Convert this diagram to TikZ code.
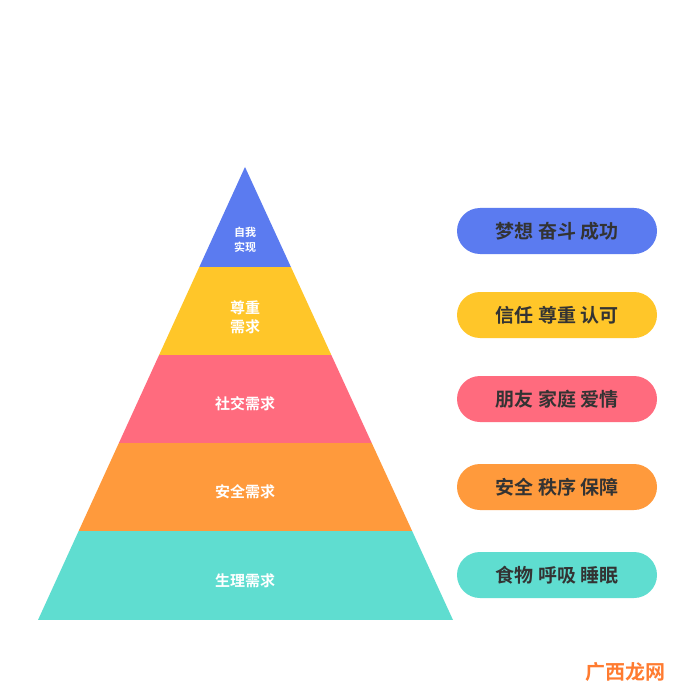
\documentclass[tikz,border=0pt]{standalone}
\usepackage{fontspec}
\newfontfamily\cjk{Noto Sans CJK SC Bold}
\definecolor{cb}{HTML}{5B7BF0}
\definecolor{cy}{HTML}{FFC629}
\definecolor{cp}{HTML}{FF6B7E}
\definecolor{co}{HTML}{FF9A3C}
\definecolor{ct}{HTML}{5FDDD0}
\definecolor{txt}{HTML}{333333}
\tikzset{pill/.style={rounded corners=23pt,minimum width=200pt,minimum height=46pt,inner sep=0pt,font=\cjk\fontsize{19}{22}\selectfont,text=txt},
lab/.style={text=white,font=\cjk\fontsize{15}{19}\selectfont,align=center}}
\begin{document}
\begin{tikzpicture}[x=1pt,y=-1pt]
\useasboundingbox (0,0) rectangle (700,700);
\fill[white] (0,0) rectangle (700,700);
\begin{scope}
\clip (245,167) -- (453,620) -- (38,620) -- cycle;
\fill[cb] (0,160) rectangle (700,267);
\fill[cy] (0,267) rectangle (700,355);
\fill[cp] (0,355) rectangle (700,443);
\fill[co] (0,443) rectangle (700,531);
\fill[ct] (0,531) rectangle (700,620);
\end{scope}
\node[lab,font=\cjk\fontsize{11}{15}\selectfont] (l1) at (245,240) {自我\\实现};
\node[lab] (l2) at (245,317) {尊重\\需求};
\node[lab] (l3) at (245,404) {社交需求};
\node[lab] (l4) at (245,492) {安全需求};
\node[lab] (l5) at (245,581) {生理需求};
\node[pill,fill=cb] (p1) at (557,231) {梦想 奋斗 成功};
\node[pill,fill=cy] (p2) at (557,315) {信任 尊重 认可};
\node[pill,fill=cp] (p3) at (557,399) {朋友 家庭 爱情};
\node[pill,fill=co] (p4) at (557,487) {安全 秩序 保障};
\node[pill,fill=ct] (p5) at (557,575) {食物 呼吸 睡眠};
\node[text=co!80!red,font=\cjk\fontsize{20}{24}\selectfont] (wm) at (625,672) {广西龙网};
\end{tikzpicture}
\end{document}
